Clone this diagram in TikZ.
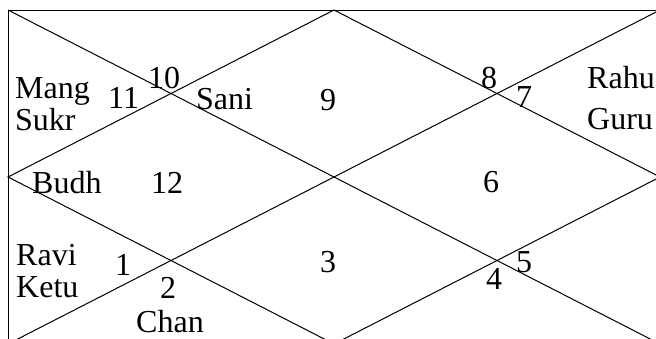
\documentclass[tikz,border=0pt]{standalone}
\usepackage{fontspec}
\setmainfont{Liberation Serif}
\tikzset{
  chartline/.style={draw=black, line width=1pt},
  lbl/.style={anchor=base west, inner sep=0pt, font=\fontsize{32}{36}\selectfont},
}
\begin{document}
\begin{tikzpicture}[x=1pt,y=-1pt]
\useasboundingbox (0,0) rectangle (656,338);
\clip (0,0) rectangle (656,338);
\coordinate (tl) at (8,10);
\coordinate (tr) at (660,10);
\coordinate (br) at (660,344);
\coordinate (bl) at (8,344);
\coordinate (mt) at (334,10);
\coordinate (mr) at (660,177);
\coordinate (mb) at (334,344);
\coordinate (ml) at (8,177);
\draw[chartline] (tl) -- (tr) -- (br) -- (bl) -- cycle;
\draw[chartline] (tl) -- (br);
\draw[chartline] (tr) -- (bl);
\draw[chartline] (mt) -- (mr) -- (mb) -- (ml) -- cycle;
% texts
\node[lbl] (mang) at (15,98) {Mang};
\node[lbl] (sukr) at (15,130) {Sukr};
\node[lbl] (h11) at (108,108) {11};
\node[lbl] (h10) at (148,88) {10};
\node[lbl] (sani) at (196,109) {Sani};
\node[lbl] (h9) at (320,110) {9};
\node[lbl] (h8) at (481,88) {8};
\node[lbl] (h7) at (516,107) {7};
\node[lbl] (rahu) at (587,88) {Rahu};
\node[lbl] (guru) at (587,129) {Guru};
\node[lbl] (budh) at (32,193) {Budh};
\node[lbl] (h12) at (151,193) {12};
\node[lbl] (h6) at (483,192) {6};
\node[lbl] (ravi) at (16,265) {Ravi};
\node[lbl] (ketu) at (16,297) {Ketu};
\node[lbl] (h1) at (115,275) {1};
\node[lbl] (h2) at (160,298) {2};
\node[lbl] (chan) at (136,332) {Chan};
\node[lbl] (h3) at (320,272) {3};
\node[lbl] (h4) at (486,289) {4};
\node[lbl] (h5) at (516,272) {5};
\end{tikzpicture}
\end{document}
